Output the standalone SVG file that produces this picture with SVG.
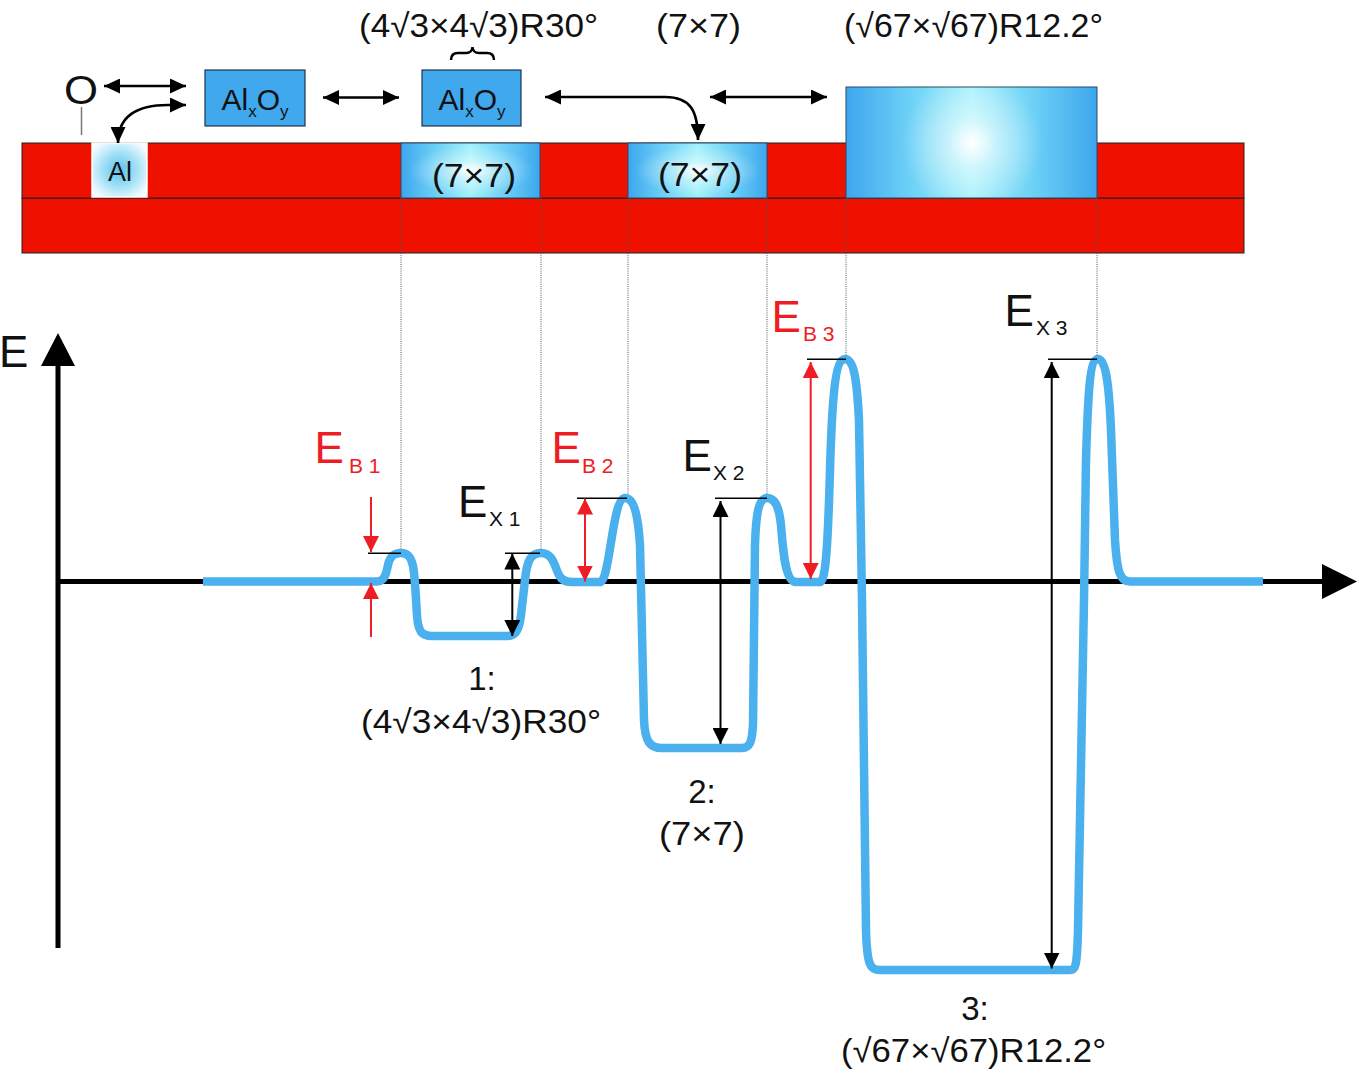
<svg xmlns="http://www.w3.org/2000/svg" width="1359" height="1073" viewBox="0 0 1359 1073">
<style>
.t{font-family:"Liberation Sans",Arial,Helvetica,sans-serif;fill:#111}
.lbl{font-size:33px}
.E{font-size:44px}
.sub{font-size:21px}
.red{fill:#ee1c24}
.curve{fill:none;stroke:#4ab0ee;stroke-width:8.5;stroke-linejoin:round}
.axis{stroke:#000;stroke-width:5;fill:none}
.dot{stroke:#555;stroke-width:1;stroke-dasharray:1 1.2;fill:none}
.tick{stroke:#000;stroke-width:1.5;fill:none}
.arrK{stroke:#000;stroke-width:2;fill:none;marker-start:url(#hK);marker-end:url(#hK)}
.arrR{stroke:#ee1c24;stroke-width:2;fill:none;marker-start:url(#hR);marker-end:url(#hR)}
.arrR1{stroke:#ee1c24;stroke-width:2;fill:none;marker-end:url(#hR)}
.arrT{stroke:#000;stroke-width:2.7;fill:none;marker-start:url(#hT);marker-end:url(#hT)}
.slab{fill:#ee1100;stroke:#222;stroke-width:1}
.ox{fill:#40a8ec;stroke:#1d3550;stroke-width:1.2}
.recH{fill:url(#gH)}
.recW{fill:url(#gW);stroke:#2a4a66;stroke-width:1}
</style>
<defs>
<linearGradient id="gH" x1="0" y1="0" x2="1" y2="0">
<stop offset="0" stop-color="#3ea6ee"/>
<stop offset="0.25" stop-color="#6cd0f6"/>
<stop offset="0.5" stop-color="#a2f1fb"/>
<stop offset="0.75" stop-color="#6cd0f6"/>
<stop offset="1" stop-color="#3ea6ee"/>
</linearGradient>
<radialGradient id="gW" cx="0.5" cy="0.5" r="0.45">
<stop offset="0" stop-color="#ffffff" stop-opacity="1"/>
<stop offset="0.35" stop-color="#ffffff" stop-opacity="0.45"/>
<stop offset="1" stop-color="#ffffff" stop-opacity="0"/>
</radialGradient>
<radialGradient id="gWbig" gradientUnits="userSpaceOnUse" cx="972" cy="143" r="70">
<stop offset="0" stop-color="#ffffff" stop-opacity="1"/>
<stop offset="0.35" stop-color="#ffffff" stop-opacity="0.5"/>
<stop offset="1" stop-color="#ffffff" stop-opacity="0"/>
</radialGradient>
<radialGradient id="gAl" cx="0.5" cy="0.5" r="0.6">
<stop offset="0" stop-color="#5cc2ef"/>
<stop offset="0.55" stop-color="#a6e2f6"/>
<stop offset="1" stop-color="#f4fcff"/>
</radialGradient>
<marker id="hK" viewBox="0 0 16 16" refX="16" refY="8" markerWidth="16" markerHeight="16" markerUnits="userSpaceOnUse" orient="auto-start-reverse"><path d="M0,0 L16,8 L0,16 z" fill="#000"/></marker>
<marker id="hR" viewBox="0 0 16 16" refX="16" refY="8" markerWidth="16" markerHeight="16" markerUnits="userSpaceOnUse" orient="auto-start-reverse"><path d="M0,0 L16,8 L0,16 z" fill="#ee1c24"/></marker>
<marker id="hT" viewBox="0 0 16 15" refX="16" refY="7.5" markerWidth="16" markerHeight="15" markerUnits="userSpaceOnUse" orient="auto-start-reverse"><path d="M0,0 L16,7.5 L0,15 z" fill="#000"/></marker>
</defs>
<rect width="1359" height="1073" fill="#fff"/>

<g id="substrate">
<rect class="slab" x="22" y="198" width="1222" height="55"/>
<rect class="slab" x="22" y="143" width="1222" height="55"/>
</g>
<g id="al-atom">
<rect x="92" y="143" width="55" height="54" fill="url(#gAl)" stroke="#f4fbff" stroke-width="1.5"/>
<text class="t" x="120" y="181" font-size="27" text-anchor="middle">Al</text>
</g>
<g id="o-atom">
<text class="t" x="64" y="104" font-size="40" textLength="34" lengthAdjust="spacingAndGlyphs">O</text>
<line x1="81.5" y1="107" x2="81.5" y2="135" stroke="#777" stroke-width="1.5"/>
</g>
<g id="alxoy-1">
<rect class="ox" x="205" y="70" width="100" height="56"/>
<text class="t" x="255" y="110" font-size="30" text-anchor="middle">Al<tspan font-size="17" dy="7">x</tspan><tspan dy="-7">O</tspan><tspan font-size="17" dy="7">y</tspan></text>
</g>
<g id="alxoy-2">
<rect class="ox" x="422" y="70" width="99" height="56"/>
<text class="t" x="472" y="110" font-size="30" text-anchor="middle">Al<tspan font-size="17" dy="7">x</tspan><tspan dy="-7">O</tspan><tspan font-size="17" dy="7">y</tspan></text>
<path d="M451,60 Q451,53 458,53 L466,53 Q472,53 472.5,47 Q473,53 479,53 L487,53 Q494,53 494,60" fill="none" stroke="#000" stroke-width="2.5"/>
</g>
<g id="r7x7-1">
<rect class="recH" x="401" y="143" width="139" height="55"/>
<rect class="recW" x="401" y="143" width="139" height="55"/>
<text class="t lbl" x="432" y="187" textLength="84" lengthAdjust="spacingAndGlyphs">(7×7)</text>
</g>
<g id="r7x7-2">
<rect class="recH" x="628" y="143" width="139" height="55"/>
<rect class="recW" x="628" y="143" width="139" height="55"/>
<text class="t lbl" x="658" y="186" textLength="84" lengthAdjust="spacingAndGlyphs">(7×7)</text>
</g>
<g id="r67">
<rect class="recH" x="846" y="87" width="251" height="111"/>
<rect x="846" y="87" width="251" height="111" fill="url(#gWbig)" stroke="#2a4a66" stroke-width="1"/>
</g>

<g id="top-labels">
<text class="t lbl" x="359" y="37" textLength="239" lengthAdjust="spacingAndGlyphs">(4√3×4√3)R30°</text>
<text class="t lbl" x="656" y="37" textLength="85" lengthAdjust="spacingAndGlyphs">(7×7)</text>
<text class="t lbl" x="844" y="37" textLength="259" lengthAdjust="spacingAndGlyphs">(√67×√67)R12.2°</text>
</g>

<g id="connectors">
<path class="arrT" d="M104,86 L186,86"/>
<path class="arrT" d="M186,105 L168,105 C138,105 118,115 118,143"/>
<path class="arrT" d="M323,97.5 L399,97.5"/>
<path class="arrT" d="M545,97 L665,97 C690,97 698,110 698,140"/>
<path class="arrT" d="M710,97 L827,97"/>
</g>

<g id="guides">
<path class="dot" d="M401,198 V551 M541,198 V551 M628,198 V495 M767,198 V495 M846,198 V357 M1097,198 V357"/>
</g>

<g id="energy-axes">
<path class="axis" d="M58,364 V948"/>
<path d="M58,333 L75,366 L41,366 z" fill="#000"/>
<path class="axis" d="M58,581.5 H1324"/>
<path d="M1357,581.5 L1322,564 L1322,599 z" fill="#000"/>
<text class="t E" x="-1" y="367">E</text>
</g>

<g id="energy-curve">
<path class="curve" d="M203,581.5 L377,581.5 C384,581.5 386,575 388,565 C390,556 394,553 401,553 C408,553 411,557 413,566 C415,576 416,600 417,615 C418,632 422,636 432,636 L506,636 C515,636 519,632 521,615 L525,580 C527,560 531,553 541,553 C550,553 553,560 556,568 C559,577 562,582 572,582 L600,582 C610,582 612,498 625,498 C634,498 638,515 640,545 L644,720 C645,742 650,748 662,748 L742,748 C750,748 752,742 753,725 L755,545 C756,512 759,498 767,498 C775,498 779,506 781,525 C783,550 785,582 796,582 L820,582 C826,582 828,540 830,470 C832,400 835,359 845,359 C854,359 857,380 859,420 L862,600 L866,930 C867,965 870,970 880,970 L1070,970 C1076,970 1077,965 1078,930 L1084,600 L1086,460 C1088,390 1090,359 1098,359 C1106,359 1109,385 1111,430 L1115,540 C1117,572 1120,581.5 1130,581.5 L1263,581.5"/>
</g>

<g id="energy-annotations">
<path class="tick" d="M368,553.3 H401 M505,553.3 H540 M577,498.3 H627 M715,498.3 H767 M807,359.3 H846 M1048,359.3 H1097"/>
<path class="arrR1" d="M371,497 V552"/>
<path class="arrR1" d="M371,637 V583"/>
<path class="arrK" d="M512.3,553.5 V636"/>
<path class="arrR" d="M585,498.5 V581.5"/>
<path class="arrK" d="M720.5,501 V744"/>
<path class="arrR" d="M810.7,362 V579"/>
<path class="arrK" d="M1051.7,362 V968.5"/>
<text class="t red"><tspan class="E" x="314.5" y="463">E</tspan><tspan class="sub" x="349" y="473">B 1</tspan></text>
<text class="t"><tspan class="E" x="458" y="517">E</tspan><tspan class="sub" x="489" y="526">X 1</tspan></text>
<text class="t red"><tspan class="E" x="551.5" y="463">E</tspan><tspan class="sub" x="582" y="473">B 2</tspan></text>
<text class="t"><tspan class="E" x="682.5" y="471">E</tspan><tspan class="sub" x="713" y="480">X 2</tspan></text>
<text class="t red"><tspan class="E" x="771.5" y="332">E</tspan><tspan class="sub" x="803" y="341">B 3</tspan></text>
<text class="t"><tspan class="E" x="1004.5" y="326">E</tspan><tspan class="sub" x="1036" y="335">X 3</tspan></text>
</g>

<g id="well-labels">
<text class="t lbl" x="482" y="690" text-anchor="middle">1:</text>
<text class="t lbl" x="361" y="733" textLength="240" lengthAdjust="spacingAndGlyphs">(4√3×4√3)R30°</text>
<text class="t lbl" x="702" y="803" text-anchor="middle">2:</text>
<text class="t lbl" x="659" y="845" textLength="86" lengthAdjust="spacingAndGlyphs">(7×7)</text>
<text class="t lbl" x="975" y="1020" text-anchor="middle">3:</text>
<text class="t lbl" x="841" y="1062" textLength="265" lengthAdjust="spacingAndGlyphs">(√67×√67)R12.2°</text>
</g>
</svg>
